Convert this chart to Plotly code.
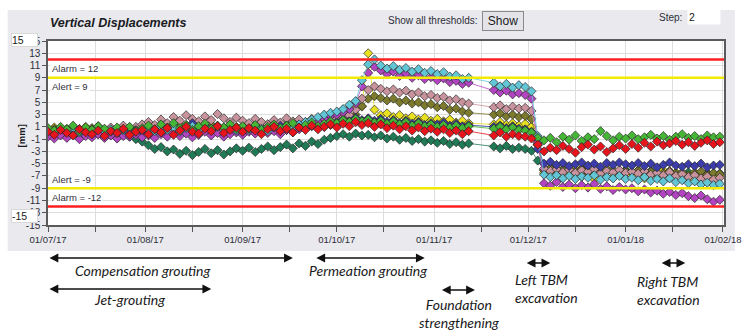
import plotly.graph_objects as go
import pandas as pd

# ---------------- data ----------------
start_date = '2017-07-01'
end_date = '2018-01-31'
gap_dates = ['2017-11-14', '2017-11-16', '2017-11-18']
dates = [d for d in pd.date_range(start_date, end_date, freq='2D')
         if d.strftime('%Y-%m-%d') not in gap_dates]

# segments: Jul(16) Aug(15) Sep(15) Oct(16) Nov-early(6) Nov-late(5) drop(3) Dec(14) Jan(15)
dark_green = [0.0, -0.4, 0.2, -0.3, -0.1, -0.6, 0.1, -0.5, -0.2, -0.7, -0.3, -0.8, -0.4, -0.6, -1.0, -1.4,
              -2.0, -2.6, -2.3, -3.0, -2.7, -3.4, -2.9, -3.6, -3.1, -2.6, -3.3, -2.8, -3.5, -3.0, -2.5,
              -2.9, -2.4, -3.1, -2.6, -2.2, -2.8, -2.3, -1.9, -2.5, -1.7, -2.1, -1.4, -1.8, -1.1, -0.8,
              -0.5, -0.2, -0.6, -0.1, -0.4, -0.3, -0.7, -0.4, -0.9, -0.6, -1.1, -0.8, -1.3, -1.0, -1.4, -1.2,
              -1.6, -1.3, -1.8, -1.5, -1.9, -1.7,
              -2.2, -2.5, -2.1, -2.6, -2.4,
              -2.6, -2.9, -4.5,
              -6.0, -5.7, -6.2, -5.9, -6.4, -6.0, -5.8, -6.3, -6.1, -6.5, -5.9, -6.2, -6.4, -6.0,
              -6.3, -6.1, -6.6, -6.2, -6.4, -6.7, -6.3, -6.5, -6.8, -6.4, -6.6, -6.9, -6.5, -6.7, -6.6]

yellow = [0.5, 0.9, 0.3, 0.7, 0.1, 0.6, 1.0, 0.4, 0.8, 0.2, 0.7, 0.5, 0.9, 0.3, 0.6, 1.0,
          0.6, 1.1, 0.4, 0.9, 0.7, 1.2, 0.5, 1.0, 0.8, 1.3, 0.6, 1.1, 0.9, 0.5, 1.0,
          0.8, 1.2, 0.6, 1.0, 1.4, 0.9, 1.3, 0.7, 1.1, 1.5, 1.2, 1.7, 2.0, 2.4, 2.8,
          3.2, 3.8, 4.0, 4.1, 4.3, 13.0, 3.8, 2.9, 3.2, 2.6, 2.9, 2.4, 2.7, 2.2, 2.5, 2.0,
          2.3, 1.9, 2.2, 1.7, 2.0, 1.6,
          1.4, 1.8, 1.3, 1.6, 1.2,
          1.5, 1.0, -2.0,
          -6.5, -7.0, -6.2, -7.3, -6.7, -5.9, -7.1, -6.4, -7.5, -6.6, -6.0, -7.2, -6.8, -6.3,
          -6.9, -6.2, -7.4, -6.6, -7.0, -6.1, -7.3, -6.5, -6.8, -7.6, -6.4, -7.1, -6.7, -7.3, -6.9]

olive = [0.3, 0.7, 0.1, 0.5, -0.1, 0.6, 0.2, 0.8, 0.0, 0.4, 0.7, 0.2, 0.5, 0.9, 0.3, 0.6,
         0.9, 0.4, 1.2, 0.7, 1.0, 0.5, 1.3, 0.8, 1.1, 0.6, 1.4, 0.9, 0.7, 1.2, 0.8,
         1.1, 0.6, 1.3, 0.9, 0.5, 1.2, 0.8, 1.4, 1.0, 1.3, 0.9, 1.5, 1.2, 1.6, 1.3,
         1.6, 1.9, 2.2, 3.0, 4.4, 5.6, 6.0, 5.7, 5.3, 5.6, 5.0, 5.3, 4.8, 5.0, 4.5, 4.7,
         4.2, 4.4, 3.8, 4.0, 3.5, 3.3,
         3.0, 3.2, 2.7, 3.0, 2.6,
         2.8, 2.3, -1.8,
         -6.1, -5.8, -6.3, -6.0, -6.5, -6.2, -5.9, -6.4, -6.1, -6.6, -6.3, -6.0, -6.5, -6.2,
         -6.4, -6.1, -6.6, -6.3, -6.8, -6.5, -6.2, -6.7, -6.4, -6.9, -6.6, -6.3, -6.8, -6.5, -6.7]

pink = [0.6, 0.2, 0.8, 0.4, 1.0, 0.3, 0.7, 0.5, 1.1, 0.6, 0.9, 0.4, 1.2, 0.8, 1.0, 1.4,
        1.8, 1.3, 2.2, 1.6, 2.6, 2.0, 2.9, 2.3, 1.9, 2.7, 2.1, 3.1, 2.4, 1.8, 2.5,
        2.0, 1.6, 2.3, 1.8, 1.4, 2.1, 1.7, 2.4, 1.9, 2.2, 1.8, 2.3, 2.0, 2.4, 2.1,
        2.3, 2.6, 2.9, 3.8, 5.6, 7.0, 7.6, 7.2, 6.8, 7.1, 6.6, 6.9, 6.3, 6.6, 6.0, 6.2,
        5.7, 5.9, 5.3, 5.5, 5.0, 4.8,
        4.2, 4.5, 3.9, 4.3, 4.0,
        4.1, 3.6, -1.0,
        -5.8, -6.2, -5.9, -6.4, -6.0, -6.5, -6.1, -6.3, -5.9, -6.6, -6.2, -6.4, -6.0, -6.5,
        -6.3, -6.6, -6.2, -6.8, -6.5, -6.9, -6.4, -7.0, -6.7, -7.2, -6.9, -7.4, -7.1, -7.6, -7.3]

blue = [0.1, 0.4, -0.2, 0.3, 0.0, 0.5, -0.1, 0.2, 0.6, 0.0, 0.4, -0.2, 0.3, 0.1, 0.5, 0.2,
        0.6, 0.2, 0.9, 0.4, 1.3, 0.7, 1.0, 1.6, 0.8, 1.2, 0.5, 0.9, 0.3, 0.8, 0.6,
        0.9, 0.4, 1.1, 0.6, 0.2, 0.8, 1.2, 0.5, 0.9, 1.3, 0.7, 1.1, 1.5, 1.0, 1.6,
        1.8, 2.2, 1.9, 2.5, 2.1, 2.4, 2.0, 2.3, 1.8, 2.1, 1.6, 2.0, 1.5, 1.8, 1.3, 1.6,
        1.4, 1.7, 1.2, 1.5, 1.1, 1.3,
        1.0, 1.2, 0.8, 1.1, 0.7,
        0.6, 0.2, -2.6,
        -5.0, -4.7, -5.2, -4.9, -5.4, -5.1, -4.8, -5.3, -5.0, -5.5, -4.9, -5.2, -4.8, -5.1,
        -5.3, -4.9, -5.4, -5.0, -5.6, -5.2, -4.8, -5.3, -5.5, -5.1, -5.4, -5.0, -5.6, -5.3, -5.2]

cyan = [0.4, 0.0, 0.6, 0.2, 0.8, 0.1, 0.5, -0.1, 0.7, 0.3, 0.6, 0.0, 0.4, 0.8, 0.2, 0.5,
        0.7, 0.3, 1.0, 0.5, 0.9, 0.2, 0.8, 1.1, 0.4, 0.9, 0.6, 1.0, 0.5, 0.8, 0.4,
        0.9, 0.5, 1.1, 0.7, 0.3, 0.9, 0.6, 1.2, 0.8, 1.4, 1.8, 2.2, 2.6, 3.0, 3.3,
        3.5, 3.9, 4.6, 5.2, 8.6, 11.2, 12.0, 11.0, 10.5, 10.9, 10.3, 10.6, 10.0, 10.4, 9.8, 10.1,
        9.6, 9.9, 9.2, 9.4, 8.8, 9.0,
        8.2, 7.6, 8.0, 7.4, 7.8,
        7.5, 6.8, -0.5,
        -6.8, -7.2, -6.9, -7.4, -7.0, -7.5, -7.1, -7.3, -6.9, -7.6, -7.2, -7.4, -7.0, -7.5,
        -7.3, -7.7, -7.2, -7.8, -7.5, -7.9, -7.4, -8.0, -7.7, -8.2, -7.9, -8.4, -8.1, -8.5, -8.3]

purple = [-0.6, -0.9, -0.4, -0.8, -0.3, -1.0, -0.5, -0.7, -0.2, -0.8, -0.4, -0.9, -0.5, -0.6, -0.3, -0.7,
          -0.4, -0.8, -0.2, -0.6, 0.1, -0.5, -0.1, -0.7, -0.3, 0.2, -0.4, 0.0, -0.6, -0.2, 0.1,
          -0.3, 0.2, -0.1, 0.4, 0.0, 0.3, -0.2, 0.5, 0.1, 0.6, 0.9, 1.3, 1.8, 2.3, 2.8,
          3.0, 3.4, 3.9, 4.8, 7.6, 9.8, 10.8, 10.2, 9.6, 10.0, 9.3, 9.7, 9.0, 9.4, 8.8, 9.1,
          8.6, 8.9, 8.3, 8.5, 8.0, 8.2,
          7.0, 6.6, 6.9, 6.3, 6.5,
          6.2, 5.6, -1.5,
          -8.2, -8.6, -8.0, -8.8, -8.4, -9.0, -8.5, -8.9, -8.3, -9.1, -8.7, -9.3, -8.8, -9.2,
          -9.0, -9.5, -9.2, -9.7, -9.4, -9.9, -9.6, -10.1, -9.8, -10.3, -10.6, -10.2, -10.8, -11.2, -10.9]

green = [0.8, 0.4, 1.0, 0.6, 1.2, 0.3, 0.9, 0.5, 1.1, 0.7, 0.2, 0.9, 0.6, 1.0, 0.4, 0.8,
         1.2, 0.6, 1.4, 0.9, 1.6, 0.8, 1.3, 0.5, 1.1, 1.5, 0.7, 1.2, 0.9, 1.4, 0.6,
         1.1, 0.7, 1.3, 0.5, 1.0, 1.4, 0.8, 1.2, 1.6, 0.9, 1.3, 1.7, 1.1, 1.5, 1.9,
         1.6, 2.1, 1.8, 2.3, 1.9, 2.2, 1.7, 2.0, 1.5, 1.9, 1.4, 1.8, 1.2, 1.6, 1.1, 1.4,
         1.0, 1.3, 0.9, 1.2, 0.8, 1.1,
         0.7, 1.0, 0.6, 0.9, 0.5,
         0.4, 0.1, -0.8,
         -1.2, -0.8, -1.5, -0.6, -1.1, -0.4, -1.3, -0.7, -1.0, 0.3, -0.5, -1.2, -0.6, -0.9,
         -0.4, -1.0, -0.7, -0.3, -0.9, -0.5, -1.1, -0.6, -0.2, -0.8, -0.5, -1.0, -0.4, -0.7, -0.6]

red = [0.2, -0.3, 0.5, 0.0, -0.4, 0.6, 0.1, -0.2, 0.4, -0.5, 0.3, 0.0, 0.7, -0.3, 0.2, 0.5,
       -0.2, 0.6, 0.1, 0.8, -0.3, 0.4, 1.0, 0.2, -0.1, 0.7, 0.3, 1.1, 0.0, 0.5, 0.9,
       0.2, 0.8, 0.4, -0.2, 0.6, 1.0, 0.3, 0.7, 0.1, 0.9, 0.5, 1.2, 0.6, 1.0, 1.4,
       0.9, 1.5, 1.1, 1.8, 1.3, 1.6, 1.0, 1.4, 0.8, 1.2, 0.6, 1.1, 0.4, 0.9, 0.3, 0.7,
       0.2, 0.6, 0.0, 0.4, -0.2, 0.3,
       -0.4, 0.1, -0.6, -0.2, -0.5,
       -0.6, -0.9, -1.9,
       -3.0, -2.4, -2.8, -2.1, -2.6, -3.2, -2.3, -1.9, -2.7, -2.2, -3.1, -2.5, -2.0, -2.6,
       -1.8, -2.4, -1.6, -2.2, -1.4, -2.0, -1.7, -1.3, -1.9, -1.5, -2.1, -1.6, -1.2, -1.8, -1.5]

series = [
    ('dark green', dark_green, '#1f7a55'),
    ('yellow', yellow, '#e8e020'),
    ('olive', olive, '#7c7a2c'),
    ('pink', pink, '#c8939c'),
    ('blue', blue, '#3c3caa'),
    ('purple', purple, '#b244c2'),
    ('cyan', cyan, '#62c6d6'),
    ('green', green, '#46b636'),
    ('red', red, '#e8141c'),
]

threshold_values = [12, 9, -9, -12]
threshold_labels = ['Alarm = 12', 'Alert = 9', 'Alert = -9', 'Alarm = -12']
threshold_colors = ['#ff1f1f', '#f2ea00', '#f2ea00', '#ff1f1f']

y_ticks = [15, 13, 11, 9, 7, 5, 3, 1, -1, -3, -5, -7, -9, -11, -13, -15]

event_names = ['<i>Compensation grouting</i>', '<i>Jet-grouting</i>', '<i>Permeation grouting</i>',
               '<i>Foundation<br>strengthening</i>', '<i>Left TBM<br>excavation</i>',
               '<i>Right TBM<br>excavation</i>']
event_start = ['2017-07-01', '2017-07-01', '2017-09-24', '2017-11-03', '2017-11-30', '2018-01-12']
event_end = ['2017-09-17', '2017-08-22', '2017-10-29', '2017-11-14', '2017-12-08', '2018-01-20']
event_text_x = ['2017-07-31', '2017-07-27', '2017-10-11', '2017-11-09', '2017-11-26', '2018-01-04']

# ---------------- figure ----------------
W, H = 753, 330
ML, MR, MT, MB = 48, 18, 41, 105
PW, PH = W - ML - MR, H - MT - MB


def px_x(p):
    return (p - ML) / PW


def px_y(p):
    return (H - MB - p) / PH


FONT = 'Liberation Sans, Arial, sans-serif'
TEXTC = '#2e2e38'

fig = go.Figure()
for name, vals, col in series:
    fig.add_trace(go.Scatter(
        x=dates, y=vals, name=name, mode='lines+markers',
        line=dict(color=col, width=0.8),
        marker=dict(symbol='diamond', size=7, color=col,
                    line=dict(color='rgba(35,35,35,0.85)', width=0.8)),
        showlegend=False, hoverinfo='skip'))

shapes = []
for v, c in zip(threshold_values, threshold_colors):
    shapes.append(dict(type='line', xref='paper', x0=0, x1=1, yref='y', y0=v, y1=v,
                       line=dict(color=c, width=2.5), layer='above'))

# white surroundings outside the grey panel
white = dict(type='rect', xref='paper', yref='paper', fillcolor='white',
             line=dict(width=0), layer='below')
shapes.append(dict(white, x0=-1, x1=2, y0=px_y(10), y1=2))
shapes.append(dict(white, x0=-1, x1=2, y0=-2, y1=px_y(251)))
shapes.append(dict(white, x0=-1, x1=px_x(7), y0=-2, y1=2))
shapes.append(dict(white, x0=px_x(746), x1=2, y0=-2, y1=2))

annotations = []
for v, lab in zip(threshold_values, threshold_labels):
    annotations.append(dict(
        xref='paper', x=0.003, xanchor='left', yref='y', y=v,
        yanchor='top' if v > 0 else 'bottom', yshift=-1.5 if v > 0 else 1.5,
        text=lab, showarrow=False, bgcolor='white', borderpad=1,
        font=dict(family=FONT, size=9.5, color=TEXTC)))

# title and widgets
annotations += [
    dict(xref='paper', yref='paper', x=px_x(48), y=px_y(23), xanchor='left', yanchor='middle',
         text='<b><i>Vertical Displacements</i></b>', showarrow=False,
         font=dict(family=FONT, size=12.5, color='#1a1a22')),
    dict(xref='paper', yref='paper', x=px_x(487), y=px_y(20), xanchor='right', yanchor='middle',
         text='Show all thresholds:', showarrow=False,
         font=dict(family=FONT, size=10, color=TEXTC)),
    dict(xref='paper', yref='paper', x=px_x(510.5), y=px_y(21), xanchor='center', yanchor='middle',
         text='Show', showarrow=False, bgcolor='#e4e4e8', bordercolor='#8a8a8a', borderwidth=1,
         borderpad=1, width=38, height=16,
         font=dict(family=FONT, size=12, color='#1a1a22')),
    dict(xref='paper', yref='paper', x=px_x(694), y=px_y(17), xanchor='right', yanchor='middle',
         text='Step:', showarrow=False, font=dict(family=FONT, size=10, color=TEXTC)),
    dict(xref='paper', yref='paper', x=px_x(697), y=px_y(17), xanchor='left', yanchor='middle',
         text='2', showarrow=False, bgcolor='white', width=30, height=12, align='left',
         font=dict(family=FONT, size=10.5, color='#1a1a22')),
    dict(xref='paper', yref='paper', x=px_x(10), y=px_y(40.5), xanchor='left', yanchor='middle',
         text='15', showarrow=False, bgcolor='white', width=25, height=12, align='left',
         bordercolor='#d8d8d8', borderwidth=1, borderpad=0,
         font=dict(family=FONT, size=10.5, color='#1a1a22')),
    dict(xref='paper', yref='paper', x=px_x(10), y=px_y(216), xanchor='left', yanchor='middle',
         text='-15', showarrow=False, bgcolor='white', width=25, height=12, align='left',
         bordercolor='#d8d8d8', borderwidth=1, borderpad=0,
         font=dict(family=FONT, size=10.5, color='#1a1a22')),
    dict(xref='paper', yref='paper', x=px_x(21), y=px_y(136), xanchor='center', yanchor='middle',
         text='<b>[mm]</b>', textangle=-90, showarrow=False,
         font=dict(family=FONT, size=9.5, color='#1a1a22')),
]

# activity arrows and labels below the chart
arrow_y = [258, 289, 258, 290, 263, 263]
text_y = [270, 299, 270, 313, 288, 290]
text_anchor = ['center', 'center', 'center', 'center', 'left', 'left']
for name, s, e, tx, ay, ty, anc in zip(event_names, event_start, event_end, event_text_x,
                                        arrow_y, text_y, text_anchor):
    annotations.append(dict(
        xref='x', x=e, axref='x', ax=s, yref='paper', y=px_y(ay), ayref='pixel', ay=0,
        text='', showarrow=True, arrowside='end+start', arrowhead=2, arrowsize=1.1,
        arrowwidth=1.6, arrowcolor='#111111', standoff=0, startstandoff=0))
    annotations.append(dict(
        xref='x', x=tx, yref='paper', y=px_y(ty), xanchor=anc, yanchor='middle',
        text=name, showarrow=False, align=anc,
        font=dict(family='Lato, Open Sans, sans-serif', size=14, color='#1a1a1a')))

fig.update_layout(
    width=W, height=H,
    margin=dict(l=ML, r=MR, t=MT, b=MB, pad=0),
    paper_bgcolor='#e9e9ee', plot_bgcolor='white',
    shapes=shapes, annotations=annotations, showlegend=False,
    xaxis=dict(type='date', range=['2017-07-01', '2018-02-01 08:00'],
               tickformat='%d/%m/%y', dtick='M1', tick0='2017-07-01',
               ticks='outside', ticklen=5, tickcolor='#555', tickwidth=1,
               showgrid=True, gridcolor='#dedede', gridwidth=1,
               showline=True, linecolor='#5a5a5a', linewidth=1.5, mirror=True,
               zeroline=False,
               tickfont=dict(family=FONT, size=9.5, color=TEXTC),
               minor=dict(dtick='M1', tick0='2017-07-16', ticks='outside', ticklen=5,
                          tickcolor='#555', showgrid=True, gridcolor='#dedede')),
    yaxis=dict(range=[-15, 15], tickvals=y_ticks, ticktext=[str(v) for v in y_ticks],
               ticks='outside', ticklen=4, tickcolor='#555',
               showgrid=True, gridcolor='#dedede', gridwidth=1,
               showline=True, linecolor='#5a5a5a', linewidth=1.5, mirror=True,
               zeroline=False,
               tickfont=dict(family=FONT, size=10, color=TEXTC)),
)

fig.write_html('out.html', config={'displayModeBar': False},
               post_script="document.body.style.margin='0';document.body.style.overflow='hidden';")
